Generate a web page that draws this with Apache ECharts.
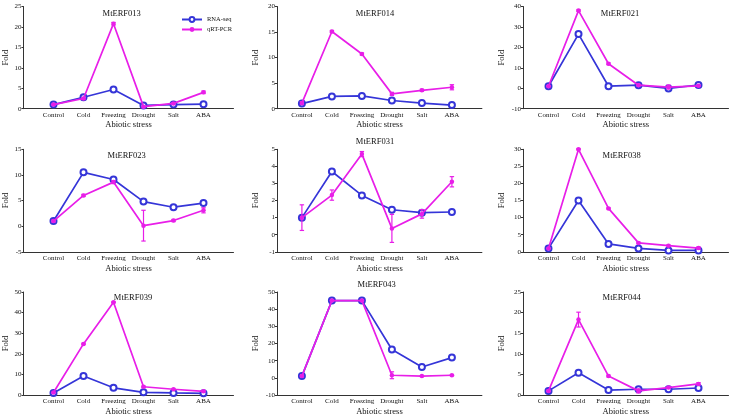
<!DOCTYPE html>
<html>
<head>
<meta charset="utf-8">
<script src="https://cdn.jsdelivr.net/npm/echarts@6/dist/echarts.min.js"></script>
<style>html,body{margin:0;padding:0;background:#fff}#c{width:730px;height:417px}</style>
</head>
<body>
<div id="c"></div>
<script>
// ---- data ----
const categories = ['Control', 'Cold', 'Freezing', 'Drought', 'Salt', 'ABA'];
const genes = ['MtERF013', 'MtERF014', 'MtERF021', 'MtERF023', 'MtERF031', 'MtERF038', 'MtERF039', 'MtERF043', 'MtERF044'];

const rna013 = [1, 2.8, 4.7, 0.8, 1.0, 1.1];
const qpcr013 = [1, 2.5, 20.8, 0.5, 1.3, 4.0];
const err013 = [0.1, 0.2, 0.3, 0.1, 0.2, 0.3];

const rna014 = [1, 2.4, 2.5, 1.6, 1.1, 0.7];
const qpcr014 = [1.1, 15.1, 10.7, 2.9, 3.6, 4.2];
const err014 = [0.3, 0.2, 0.2, 0.3, 0.2, 0.5];

const rna021 = [1, 26.5, 1, 1.5, -0.1, 1.6];
const qpcr021 = [1, 38, 12, 1.5, 0.6, 1.2];
const err021 = [0.3, 0.4, 0.4, 0.4, 1.0, 0.3];

const rna023 = [1, 10.5, 9.1, 4.8, 3.7, 4.5];
const qpcr023 = [1, 6.0, 8.6, 0.1, 1.1, 3.1];
const err023 = [0.2, 0.2, 0.3, 3.0, 0.2, 0.5];

const rna031 = [1, 3.7, 2.3, 1.46, 1.29, 1.33];
const qpcr031 = [1.0, 2.32, 4.72, 0.37, 1.22, 3.1];
const err031 = [0.75, 0.3, 0.15, 0.82, 0.25, 0.3];

const rna038 = [1, 15, 2.3, 1.0, 0.4, 0.4];
const qpcr038 = [1, 30, 12.7, 2.6, 1.8, 1.1];
const err038 = [0.1, 0.2, 0.2, 0.2, 0.2, 0.3];

const rna039 = [1, 9.2, 3.5, 1.3, 1.0, 0.8];
const qpcr039 = [1.2, 24.8, 45, 4.0, 2.8, 1.8];
const err039 = [0.2, 0.3, 0.3, 0.3, 0.2, 0.3];

const rna043 = [1, 45, 45, 16.5, 6.3, 11.8];
const qpcr043 = [1, 45, 45, 1.5, 1.0, 1.5];
const err043 = [0.3, 0.3, 0.3, 2.0, 0.3, 0.3];

const rna044 = [1, 5.4, 1.2, 1.4, 1.4, 1.7];
const qpcr044 = [1, 18.3, 4.6, 1.0, 1.8, 2.7];
const err044 = [0.2, 1.8, 0.2, 0.5, 0.2, 0.3];

const rnaAll = [rna013, rna014, rna021, rna023, rna031, rna038, rna039, rna043, rna044];
const qpcrAll = [qpcr013, qpcr014, qpcr021, qpcr023, qpcr031, qpcr038, qpcr039, qpcr043, qpcr044];
const errAll = [err013, err014, err021, err023, err031, err038, err039, err043, err044];

// y-axis tick labels (min, max, step)
const yMin = [0, 0, -10, -5, -1, 0, 0, -10, 0];
const yMax = [25, 20, 40, 15, 5, 30, 50, 50, 25];
const yStep = [5, 5, 10, 5, 1, 5, 10, 10, 5];

// ---- layout ----
const colLeft = [23.5, 277, 523];
const colXMin = [0, 0.17, 0.15];
const colNameGap = [12, 17, 17];
const unitPx = 30;
const rowTop = [6.5, 149.3, 292];
const rowBottom = [108.7, 251.8, 395];
const titlePos = [[121.7, 9.5], [375, 9.5], [620, 9.5], [126.7, 151.5], [375, 137.5], [621.7, 151.5], [133, 293.5], [376.7, 280.5], [621.7, 293.5]];

const BLUE = '#3535d8';
const MAG = '#e81ee8';
const FONT = '"Liberation Serif", "Times New Roman", serif';

const grids = [], xAxes = [], yAxes = [], series = [], titles = [];
for (let i = 0; i < 9; i++) {
  const r = Math.floor(i / 3), c = i % 3;
  const xmin = colXMin[c], xmax = 7;
  grids.push({ left: colLeft[c], top: rowTop[r], width: (xmax - xmin) * unitPx, height: rowBottom[r] - rowTop[r], containLabel: false });
  xAxes.push({
    type: 'value', gridIndex: i, min: xmin, max: xmax,
    splitLine: { show: false },
    axisLine: { onZero: false, lineStyle: { color: '#333', width: 1 } },
    axisTick: { show: false },
    axisLabel: {
      customValues: [1, 2, 3, 4, 5, 6],
      formatter: v => categories[Math.round(v) - 1] || '',
      fontFamily: FONT, fontSize: 7, color: '#111', margin: 3
    },
    name: 'Abiotic stress', nameLocation: 'middle', nameGap: 12,
    nameTextStyle: { fontFamily: FONT, fontSize: 8.5, color: '#111' }
  });
  yAxes.push({
    type: 'value', gridIndex: i, min: yMin[i], max: yMax[i], interval: yStep[i],
    splitLine: { show: false },
    axisLine: { show: true, onZero: false, lineStyle: { color: '#333', width: 1 } },
    axisTick: { show: true, length: 2, lineStyle: { color: '#333' } },
    axisLabel: { fontFamily: FONT, fontSize: 7, color: '#111', margin: 2 },
    name: 'Fold', nameLocation: 'middle', nameGap: colNameGap[c],
    nameTextStyle: { fontFamily: FONT, fontSize: 8.5, color: '#111' }
  });
  titles.push({
    text: genes[i], left: titlePos[i][0], top: titlePos[i][1], textAlign: 'center', padding: 0,
    textStyle: { fontFamily: FONT, fontSize: 8.5, fontWeight: 'normal', color: '#111' }
  });
  series.push({
    name: 'RNA-seq', type: 'line', xAxisIndex: i, yAxisIndex: i,
    data: rnaAll[i].map((v, k) => [k + 1, v]),
    symbol: 'emptyCircle', symbolSize: 6,
    lineStyle: { color: BLUE, width: 1.7 },
    itemStyle: { color: BLUE, borderColor: BLUE, borderWidth: 1.7 },
    z: 2
  });
  series.push({
    name: 'qRT-PCR', type: 'line', xAxisIndex: i, yAxisIndex: i,
    data: qpcrAll[i].map((v, k) => [k + 1, v]),
    symbol: 'circle', symbolSize: 4.5,
    lineStyle: { color: MAG, width: 1.7 },
    itemStyle: { color: MAG },
    z: 3
  });
  series.push({
    type: 'custom', xAxisIndex: i, yAxisIndex: i, z: 4,
    data: qpcrAll[i].map((v, k) => [k + 1, v - errAll[i][k], v + errAll[i][k]]),
    renderItem: function (params, api) {
      const lo = api.coord([api.value(0), api.value(1)]);
      const hi = api.coord([api.value(0), api.value(2)]);
      const w = 2.2;
      const st = { stroke: MAG, lineWidth: 1.2 };
      return { type: 'group', children: [
        { type: 'line', shape: { x1: lo[0], y1: lo[1], x2: hi[0], y2: hi[1] }, style: st },
        { type: 'line', shape: { x1: lo[0] - w, y1: lo[1], x2: lo[0] + w, y2: lo[1] }, style: st },
        { type: 'line', shape: { x1: hi[0] - w, y1: hi[1], x2: hi[0] + w, y2: hi[1] }, style: st }
      ] };
    },
    silent: true
  });
}

const chart = echarts.init(document.getElementById('c'), null, { renderer: 'canvas' });
chart.setOption({
  animation: false,
  backgroundColor: '#fff',
  title: titles,
  legend: {
    data: ['RNA-seq', 'qRT-PCR'], orient: 'vertical', left: 176, top: 11,
    itemGap: 3, itemWidth: 20, itemHeight: 6,
    textStyle: { fontFamily: FONT, fontSize: 6.5, color: '#111' }
  },
  grid: grids, xAxis: xAxes, yAxis: yAxes, series: series
});
</script>
</body>
</html>
